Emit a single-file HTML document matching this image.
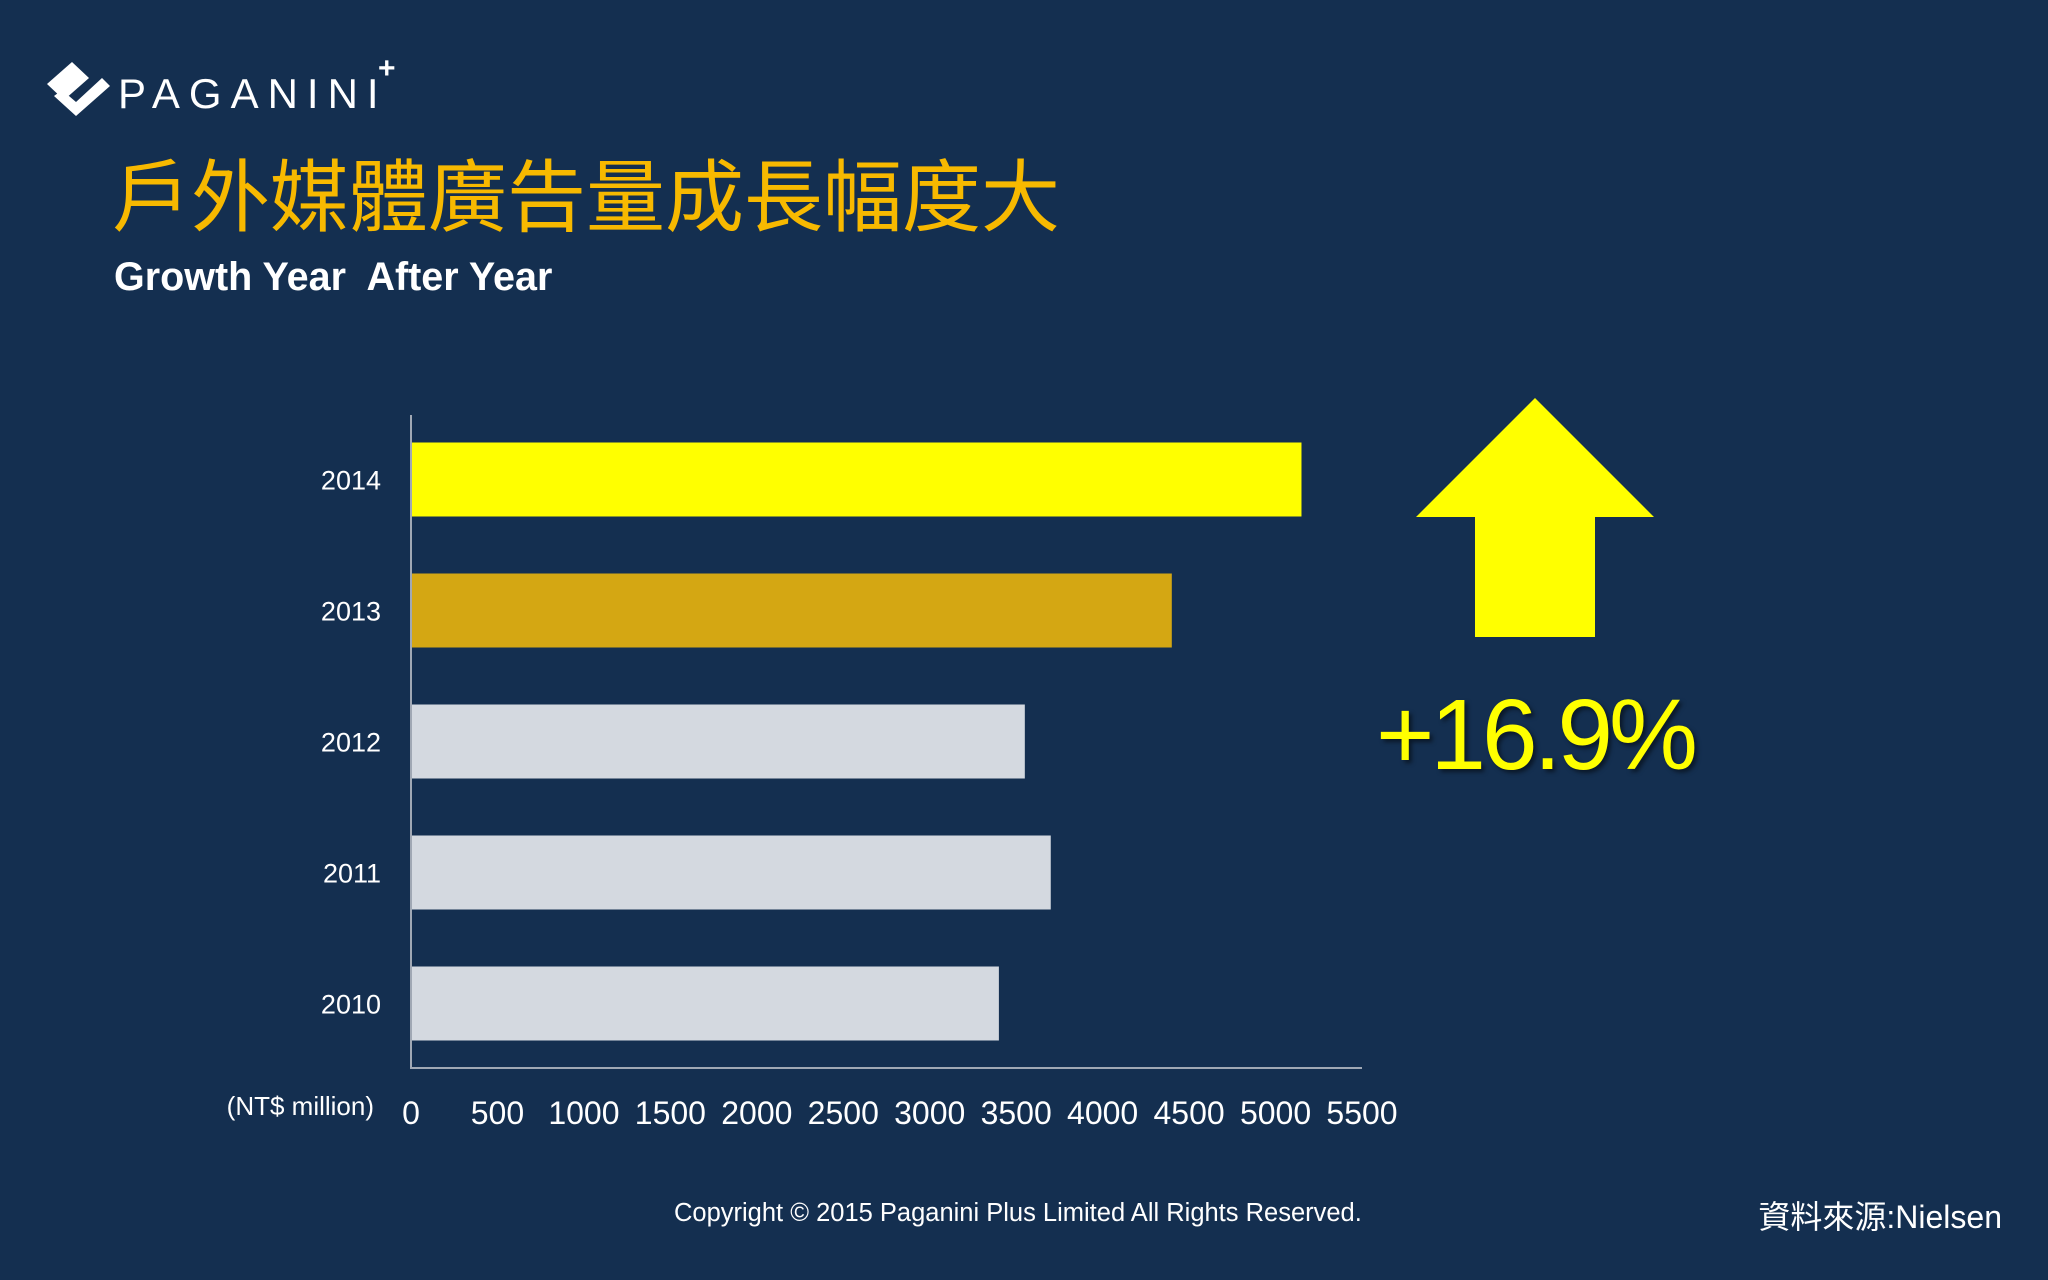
<!DOCTYPE html>
<html><head><meta charset="utf-8"><style>
body{margin:0;width:2048px;height:1280px;background:#142f50;overflow:hidden;position:relative;font-family:"Liberation Sans","Noto Sans CJK TC",sans-serif}
.abs{position:absolute;white-space:nowrap}
</style></head><body>
<svg class="abs" style="left:44px;top:58px" width="70" height="60" viewBox="0 0 70 60">
<polygon points="3,26 28,4 45,20 20,42" fill="#fff"/>
<polygon points="10,38 32,58 66,28 58,20 32,44 18,32" fill="#fff"/>
</svg>
<div class="abs" style="left:118px;top:70px;font-size:42px;color:#fff;letter-spacing:9px;font-weight:300">PAGANINI</div>
<div class="abs" style="left:378px;top:52px;font-size:30px;color:#fff;font-weight:bold">+</div>
<div class="abs" style="left:112px;top:146px;font-size:79px;line-height:90px;color:#f7b900;font-family:'Noto Sans CJK TC',sans-serif">戶外媒體廣告量成長幅度大</div>
<div class="abs" style="left:114px;top:255px;font-size:39.5px;color:#fff;font-weight:bold;white-space:pre">Growth Year  After Year</div>
<svg id="chart" class="abs" style="left:0;top:0" width="2048" height="1280"></svg>
<svg class="abs" style="left:0;top:0" width="2048" height="1280">
<polygon points="1535,398 1654,517 1595,517 1595,637 1475,637 1475,517 1416,517" fill="#ffff00"/>
</svg>
<div class="abs" style="left:1376px;top:678px;font-size:100px;color:#ffff00;font-family:'Liberation Sans',sans-serif;text-shadow:3px 3px 4px rgba(0,0,0,0.5);letter-spacing:-4px">+16.9%</div>
<div class="abs" style="left:674px;top:1199px;font-size:25.5px;color:#fff">Copyright © 2015 Paganini Plus Limited All Rights Reserved.</div>
<div class="abs" style="right:46px;top:1192px;font-size:32px;color:#fff">資料來源:Nielsen</div>
<script>
const categories=["2014","2013","2012","2011","2010"];
const values=[5150,4400,3550,3700,3400];
const colors=["#ffff00","#d4a713","#d4d9e0","#d4d9e0","#d4d9e0"];
const ticks=[0,500,1000,1500,2000,2500,3000,3500,4000,4500,5000,5500];
const ns="http://www.w3.org/2000/svg";
const svg=document.getElementById("chart");
const x0=411,x1=1362,y0=415,yAxis=1068;
const xs=v=>x0+(v/5500)*(x1-x0);
const bandTop=414,band=131,barH=74;
function mk(t,a){const e=document.createElementNS(ns,t);for(const k in a)e.setAttribute(k,a[k]);svg.appendChild(e);return e;}
categories.forEach((c,i)=>{
 const y=bandTop+i*band+(band-barH)/2;
 const r=mk("rect",{x:x0,y:y,width:xs(values[i])-x0,height:barH,fill:colors[i]});
 
 
 const t=mk("text",{x:381,y:y+barH/2+10,"text-anchor":"end","font-size":27,fill:"#fff","font-family":"Liberation Sans, sans-serif"});
 t.textContent=c;
 
 
});
const ax=mk("path",{d:`M${x0} ${y0}V${yAxis}H${x1}`,stroke:"#a0a8b4","stroke-width":2,fill:"none"});


ticks.forEach(v=>{
 const t=mk("text",{x:xs(v),y:1124,"text-anchor":"middle","font-size":32,fill:"#fff","font-family":"Liberation Sans, sans-serif"});
 t.textContent=v;
 
 
});
const u=mk("text",{x:374,y:1115,"text-anchor":"end","font-size":26,fill:"#fff","font-family":"Liberation Sans, sans-serif"});
u.textContent="(NT$ million)";


</script>
</body></html>
